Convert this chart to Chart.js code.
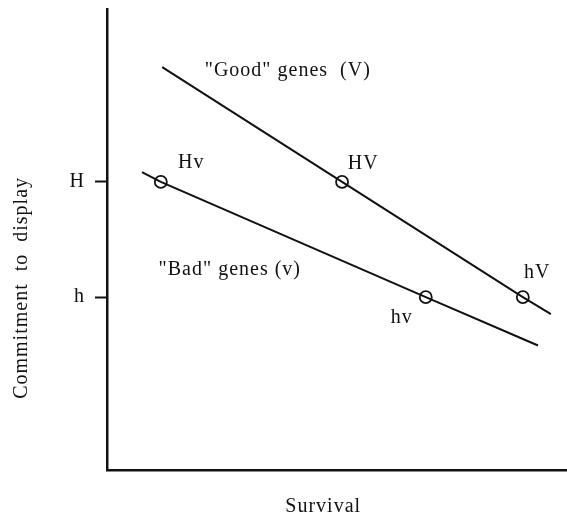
<!DOCTYPE html>
<html>
<head>
<meta charset="utf-8">
<script src="https://cdn.jsdelivr.net/npm/chart.js@4/dist/chart.umd.min.js"></script>
<style>
  html, body { margin: 0; padding: 0; background: #fff; }
  #wrap { width: 567px; height: 521px; }
</style>
</head>
<body>
<div id="wrap"><canvas id="fig"></canvas></div>
<script>
// "Good" genes line (V): start, HV, hV, end
const goodX = [12.0, 51.1, 90.4, 96.5];
const goodY = [87.4, 62.5, 37.5, 33.8];
// "Bad" genes line (v): start, Hv, hv, end
const badX = [7.6, 11.7, 69.3, 93.7];
const badY = [64.6, 62.5, 37.5, 27.0];

// y tick values and their labels
const tickValues = [37.5, 62.5];
const tickLabels = ['h', 'H'];

// axis titles
const xTitle = 'Survival';
const yTitle = 'Commitment  to  display';

// text written inside the plot
const noteText = ['"Good" genes  (V)', '"Bad" genes (v)', 'Hv', 'HV', 'hV', 'hv'];
const noteX = [39.3, 26.7, 18.3, 55.7, 93.5, 64.1];
const noteY = [86.6, 43.4, 66.6, 66.4, 42.7, 33.0];

const ink = '#111';
const serif = '"Liberation Serif", "DejaVu Serif", serif';
const textFont = '20px ' + serif;

const toPoints = (xs, ys) => xs.map((x, i) => ({ x: x, y: ys[i] }));

const spacing = {
  id: 'spacing',
  beforeDraw(chart) {
    chart.ctx.letterSpacing = '1px';
  }
};

// notes inside the plot plus the two axis titles
const notes = {
  id: 'notes',
  afterDatasetsDraw(chart) {
    const { ctx, scales, chartArea } = chart;
    ctx.save();
    ctx.letterSpacing = '1px';
    ctx.font = textFont;
    ctx.fillStyle = ink;
    ctx.textAlign = 'center';
    ctx.textBaseline = 'middle';
    noteText.forEach((t, i) => {
      ctx.fillText(t, scales.x.getPixelForValue(noteX[i]), scales.y.getPixelForValue(noteY[i]));
    });
    // Survival sits a bit left of the axis middle in the original
    ctx.fillText(xTitle, scales.x.getPixelForValue(47), chartArea.bottom + 37);
    ctx.translate(chartArea.left - 85, scales.y.getPixelForValue(39.5));
    ctx.rotate(-Math.PI / 2);
    ctx.fillText(yTitle, 0, 0);
    ctx.restore();
  }
};

const lineStyle = {
  borderColor: ink,
  borderWidth: 2,
  pointRadius: [0, 6, 6, 0],
  pointBorderWidth: 1.8,
  pointBorderColor: ink,
  pointBackgroundColor: 'rgba(0,0,0,0)',
  pointHoverRadius: [0, 6, 6, 0],
  tension: 0,
  fill: false
};

new Chart(document.getElementById('fig'), {
  type: 'line',
  data: {
    datasets: [
      Object.assign({ label: 'Good genes (V)', data: toPoints(goodX, goodY) }, lineStyle),
      Object.assign({ label: 'Bad genes (v)', data: toPoints(badX, badY) }, lineStyle)
    ]
  },
  options: {
    responsive: true,
    maintainAspectRatio: false,
    animation: false,
    layout: { padding: { top: 9, right: 0, bottom: 0, left: 0 } },
    plugins: {
      legend: { display: false },
      tooltip: { enabled: false }
    },
    scales: {
      x: {
        type: 'linear',
        min: 0,
        max: 100,
        grid: { display: false },
        border: { display: true, color: ink, width: 2.5 },
        ticks: { display: false },
        afterFit(scale) {
          scale.height = 51;
          scale.paddingLeft = 0;
          scale.paddingRight = 0;
        }
      },
      y: {
        type: 'linear',
        min: 0,
        max: 100,
        grid: {
          display: true,
          drawOnChartArea: false,
          drawTicks: true,
          tickLength: 12,
          tickColor: ink,
          tickWidth: 2
        },
        border: { display: true, color: ink, width: 2.5 },
        afterBuildTicks(scale) {
          scale.ticks = tickValues.map(v => ({ value: v }));
        },
        ticks: {
          color: ink,
          padding: 10,
          font: { family: serif, size: 20 },
          callback: (v) => tickLabels[tickValues.indexOf(v)]
        },
        afterFit(scale) {
          scale.width = 107;
          scale.paddingTop = 0;
          scale.paddingBottom = 0;
        }
      }
    }
  },
  plugins: [spacing, notes]
});
</script>
</body>
</html>
